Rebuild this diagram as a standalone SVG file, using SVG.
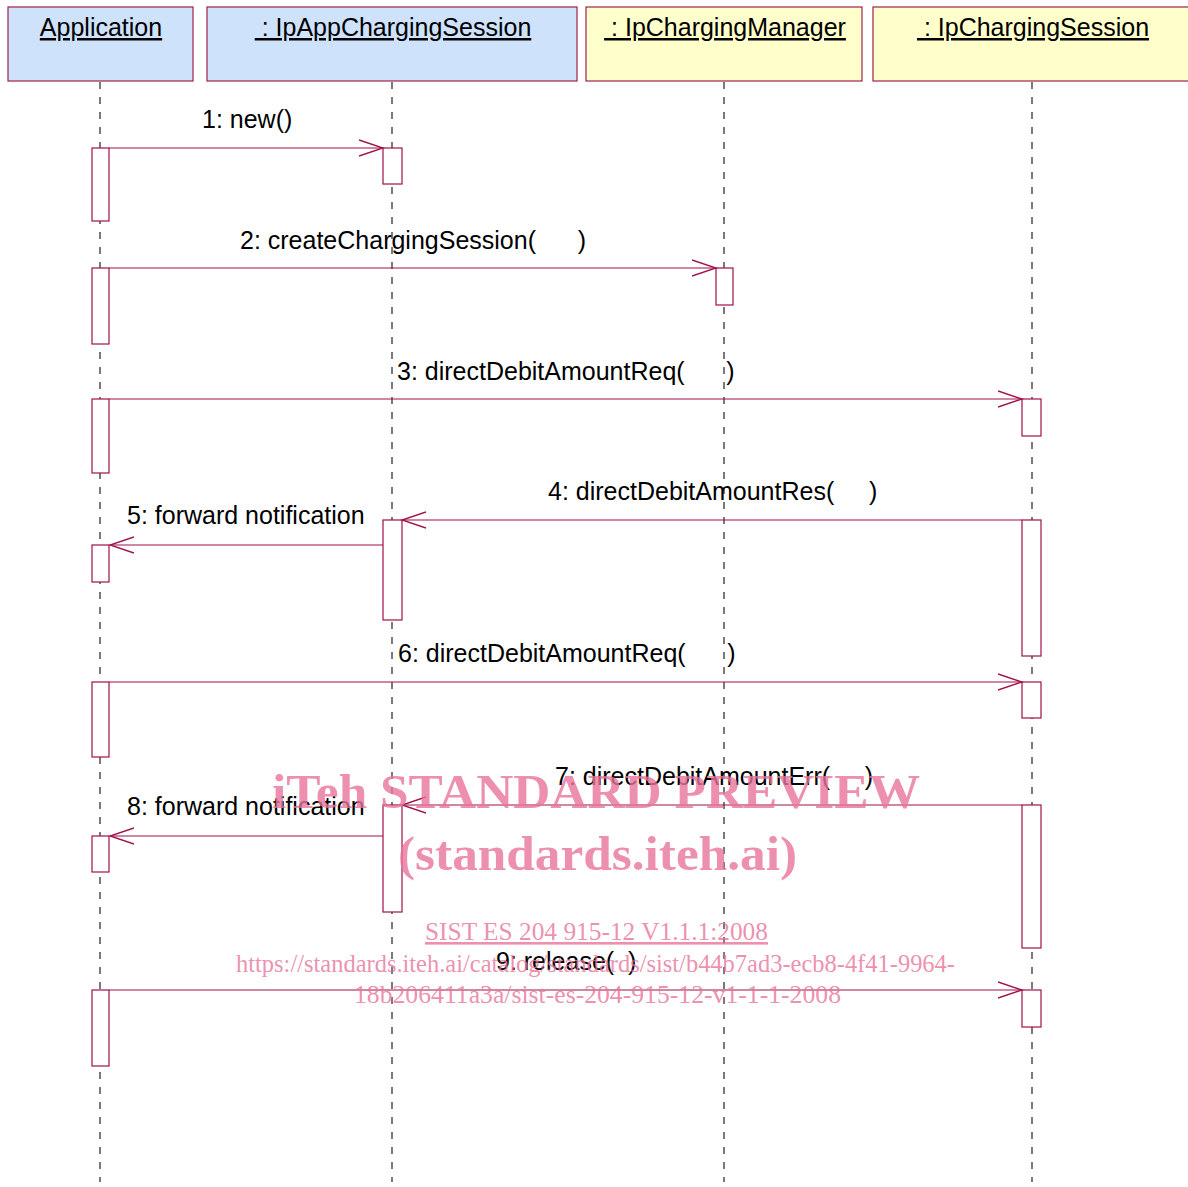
<svg xmlns="http://www.w3.org/2000/svg" width="1188" height="1187" viewBox="0 0 1188 1187">
<style>
.hdr{stroke:#a0204a;stroke-width:1.2}
.blue{fill:#cfe2fc}
.yel{fill:#ffffcc}
.ht{font-family:"Liberation Sans",Arial,sans-serif;font-size:25px;fill:#000;text-decoration:underline;text-anchor:middle}
.life{stroke:#222;stroke-width:1.2;stroke-dasharray:7 8;fill:none}
.act{fill:#fff;stroke:#a0104a;stroke-width:1.2}
.msg{stroke:#a0104a;stroke-width:1.2;fill:none}
.lbl{font-family:"Liberation Sans",Arial,sans-serif;font-size:25px;fill:#000}
.wm{font-family:"Liberation Serif","Times New Roman",serif;fill:#e8739a;fill-opacity:0.8}
</style>
<defs>
<marker id="arr" markerWidth="26" markerHeight="20" refX="24" refY="10" orient="auto" markerUnits="userSpaceOnUse">
<path d="M0,2 L24,10 L0,18" fill="none" stroke="#a0104a" stroke-width="1.5"/>
</marker>
</defs>
<g id="lifelines">
<line class="life" x1="100" y1="82" x2="100" y2="1182"/>
<line class="life" x1="392" y1="82" x2="392" y2="1182"/>
<line class="life" x1="724" y1="82" x2="724" y2="1182"/>
<line class="life" x1="1032" y1="82" x2="1032" y2="1182"/>
</g>
<g id="node-application">
<rect class="hdr blue" x="8" y="7" width="185" height="74"/>
<text class="ht" x="101" y="36">Application</text>
</g>
<g id="node-ipappchargingsession">
<rect class="hdr blue" x="207" y="7" width="370" height="74"/>
<text class="ht" x="393" y="36" xml:space="preserve"> : IpAppChargingSession</text>
</g>
<g id="node-ipchargingmanager">
<rect class="hdr yel" x="586" y="7" width="276" height="74"/>
<text class="ht" x="725" y="36" xml:space="preserve"> : IpChargingManager</text>
</g>
<g id="node-ipchargingsession">
<rect class="hdr yel" x="873" y="7" width="320" height="74"/>
<text class="ht" x="1033" y="36" xml:space="preserve"> : IpChargingSession</text>
</g>
<g id="activations">
<rect class="act" x="92" y="148" width="17" height="73"/>
<rect class="act" x="92" y="268" width="17" height="76"/>
<rect class="act" x="92" y="399" width="17" height="74"/>
<rect class="act" x="92" y="545" width="17" height="37"/>
<rect class="act" x="92" y="682" width="17" height="75"/>
<rect class="act" x="92" y="836" width="17" height="36"/>
<rect class="act" x="92" y="990" width="17" height="76"/>
<rect class="act" x="383" y="148" width="19" height="36"/>
<rect class="act" x="383" y="520" width="19" height="100"/>
<rect class="act" x="383" y="805" width="19" height="107"/>
<rect class="act" x="716" y="268" width="17" height="37"/>
<rect class="act" x="1022" y="399" width="19" height="37"/>
<rect class="act" x="1022" y="520" width="19" height="136"/>
<rect class="act" x="1022" y="682" width="19" height="36"/>
<rect class="act" x="1022" y="805" width="19" height="143"/>
<rect class="act" x="1022" y="990" width="19" height="37"/>
</g>
<g id="connectors">
<line class="msg" x1="109" y1="148" x2="383" y2="148" marker-end="url(#arr)"/>
<text class="lbl" x="202" y="128">1: new()</text>
<line class="msg" x1="109" y1="268" x2="716" y2="268" marker-end="url(#arr)"/>
<text class="lbl" x="240" y="249" xml:space="preserve">2: createChargingSession(      )</text>
<line class="msg" x1="109" y1="399" x2="1022" y2="399" marker-end="url(#arr)"/>
<text class="lbl" x="397" y="380" xml:space="preserve">3: directDebitAmountReq(      )</text>
<line class="msg" x1="1022" y1="520" x2="402" y2="520" marker-end="url(#arr)"/>
<text class="lbl" x="548" y="500" xml:space="preserve">4: directDebitAmountRes(     )</text>
<line class="msg" x1="383" y1="545" x2="110" y2="545" marker-end="url(#arr)"/>
<text class="lbl" x="127" y="524">5: forward notification</text>
<line class="msg" x1="109" y1="682" x2="1022" y2="682" marker-end="url(#arr)"/>
<text class="lbl" x="398" y="662" xml:space="preserve">6: directDebitAmountReq(      )</text>
<line class="msg" x1="1022" y1="805" x2="402" y2="805" marker-end="url(#arr)"/>
<text class="lbl" x="555" y="785" xml:space="preserve">7: directDebitAmountErr(     )</text>
<line class="msg" x1="383" y1="836" x2="110" y2="836" marker-end="url(#arr)"/>
<text class="lbl" x="127" y="815">8: forward notification</text>
<line class="msg" x1="109" y1="990" x2="1022" y2="990" marker-end="url(#arr)"/>
<text class="lbl" x="496" y="970" xml:space="preserve">9: release(  )</text>
</g>
<g id="watermark">
<text class="wm" x="272" y="808" font-size="48" font-weight="bold" textLength="648" lengthAdjust="spacingAndGlyphs">iTeh STANDARD PREVIEW</text>
<text class="wm" x="398" y="870" font-size="48" font-weight="bold" textLength="399" lengthAdjust="spacingAndGlyphs">(standards.iteh.ai)</text>
<text class="wm" x="425" y="940" font-size="26" text-decoration="underline" textLength="343" lengthAdjust="spacingAndGlyphs">SIST ES 204 915-12 V1.1.1:2008</text>
<text class="wm" x="236" y="972" font-size="26" textLength="719" lengthAdjust="spacingAndGlyphs">https://standards.iteh.ai/catalog/standards/sist/b44b7ad3-ecb8-4f41-9964-</text>
<text class="wm" x="354" y="1003" font-size="26" textLength="487" lengthAdjust="spacingAndGlyphs">18b206411a3a/sist-es-204-915-12-v1-1-1-2008</text>
</g>
</svg>
